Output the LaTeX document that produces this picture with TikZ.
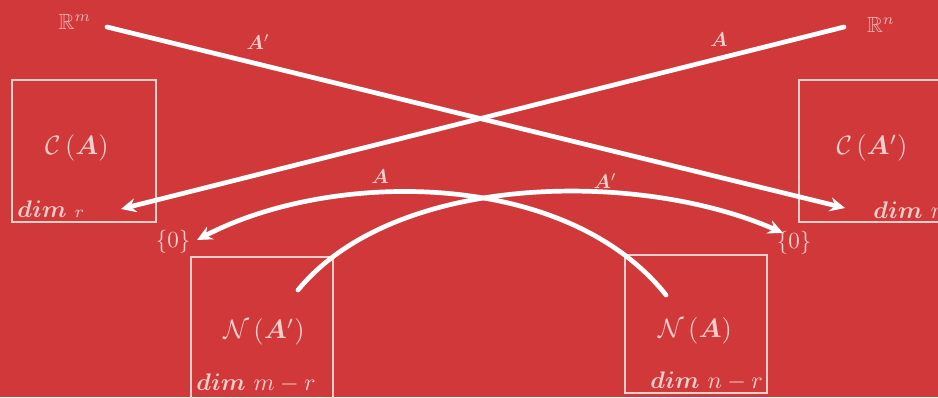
\documentclass[tikz,border=0pt]{standalone}
\usepackage{amsmath,amssymb,bm}
\usetikzlibrary{arrows.meta}
\definecolor{bg}{RGB}{208,56,58}
\definecolor{txt}{RGB}{246,206,202}
\definecolor{dimc}{RGB}{238,180,178}
\begin{document}
\begin{tikzpicture}[x=1pt,y=-1pt,
  every node/.style={inner sep=0pt,text=txt},
  boxlabel/.style={scale=2.65},
  dimlabel/.style={scale=2.4,anchor=base west},
  zerolabel/.style={scale=2.3},
  spacelabel/.style={scale=2.2,text=dimc},
  maplabel/.style={scale=2.0},
  frame/.style={draw=txt,line width=1.8pt,fill=none},
  arrowline/.style={draw=white,line width=4.7pt,line cap=round,-{Stealth[length=15pt,width=14pt,inset=5pt]}}]
\useasboundingbox (0,0) rectangle (938,397);
\fill[bg] (0,0) rectangle (938,397);

% boxes
\draw[frame] (12,80) rectangle (156,222);
\draw[frame] (799,80) rectangle (950,222);
\draw[frame] (191,257) rectangle (333,410);
\draw[frame] (625,255) rectangle (767,393);

% box texts
\node[boxlabel] (CA) at (77,148) {$\mathcal{C}\,(\bm{A})$};
\node[dimlabel] (dimL) at (17,217) {$\bm{dim}$ {\scriptsize$r$}};
\node[boxlabel] (CAp) at (872,148) {$\mathcal{C}\,(\bm{A}')$};
\node[dimlabel] (dimR) at (873,218) {$\bm{dim}\ r$};
\node[boxlabel] (NAp) at (264,332) {$\mathcal{N}\,(\bm{A}')$};
\node[dimlabel] (dimNAp) at (196,390) {$\bm{dim}\ m-r$};
\node[boxlabel] (NA) at (695,331) {$\mathcal{N}\,(\bm{A})$};
\node[dimlabel] (dimNA) at (650,388) {$\bm{dim}\ n-r$};

% space labels
\node[spacelabel] (Rm) at (75,22) {$\mathbb{R}^m$};
\node[spacelabel] (Rn) at (881,25) {$\mathbb{R}^n$};
\node[zerolabel] (Z1) at (173,242) {$\{0\}$};
\node[zerolabel] (Z2) at (794,243) {$\{0\}$};

% coordinates
\coordinate (s1) at (107,27);
\coordinate (e1) at (845,208);
\coordinate (s2) at (844,27);
\coordinate (e2) at (121,209);
\coordinate (s3) at (666,295);
\coordinate (e3) at (197,240);
\coordinate (s4) at (298,290);
\coordinate (e4) at (783,233);

% straight maps
\draw[arrowline] (s1) -- (e1);
\draw[arrowline] (s2) -- (e2);
% curved maps
\draw[arrowline] (s3) .. controls (565,168) and (330,170) .. (e3);
\draw[arrowline] (s4) .. controls (395,172) and (640,170) .. (e4);

% map labels
\node[maplabel] (lAp) at (258,42) {$\bm{A}'$};
\node[maplabel] (lA) at (719,40) {$\bm{A}$};
\node[maplabel] (cA) at (380,177) {$\bm{A}$};
\node[maplabel] (cAp) at (605,181) {$\bm{A}'$};
\end{tikzpicture}
\end{document}
